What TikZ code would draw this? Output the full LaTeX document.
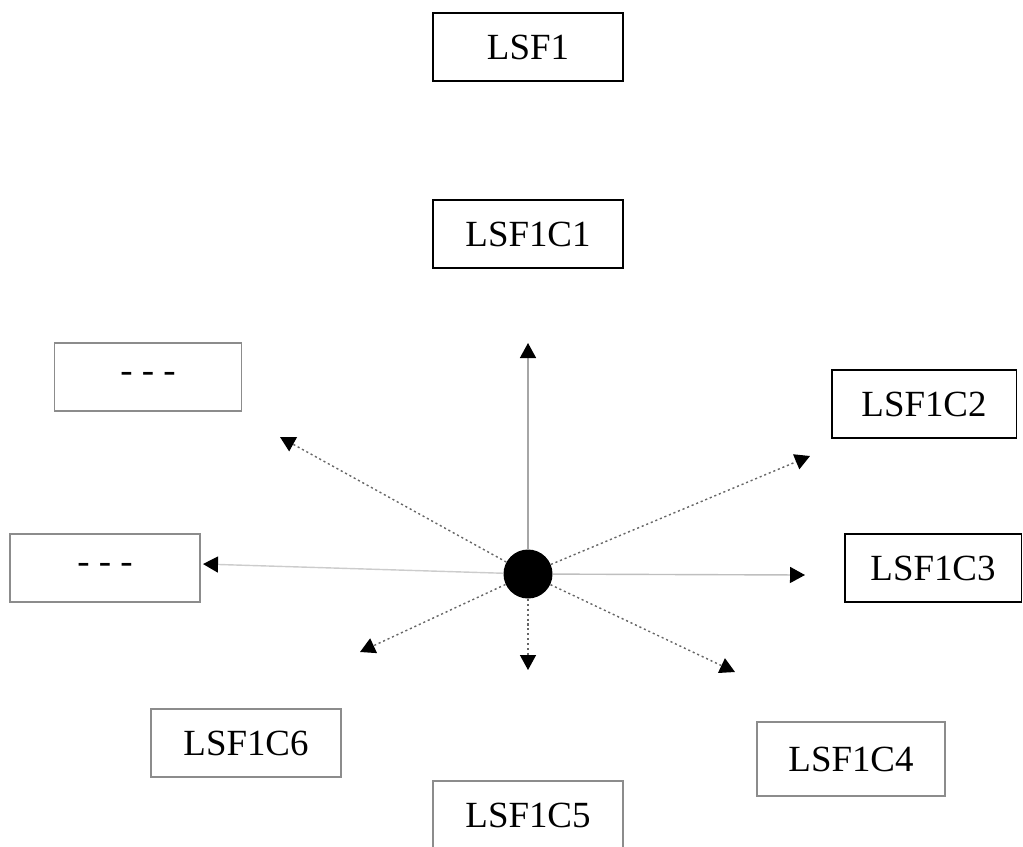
\documentclass[tikz,border=0pt]{standalone}
\usepackage{fontspec}
\setmainfont{Liberation Serif}
\usetikzlibrary{arrows.meta}
\tikzset{
  darkbox/.style={draw=black, line width=1.1pt, fill=white, font=\fontsize{21}{25}\selectfont,
    minimum width=3.8cm, minimum height=1.36cm, inner sep=0pt},
  greybox/.style={darkbox, draw=black!45},
  ray/.style={-{Triangle[length=0.3cm,width=0.32cm,black]}, line width=0.8pt},
  dotray/.style={ray, draw=black!60, dash pattern=on 1.2pt off 1.6pt}
}
\begin{document}
\begin{tikzpicture}[x={(0.02cm,0)}, y={(0,-0.02cm)}]
  \useasboundingbox (0,0) rectangle (1023,846);

  \node[darkbox] (lsf) at (528,47) {LSF1};
  \node[darkbox] (c1) at (528,234) {LSF1C1};
  \node[darkbox, minimum width=3.7cm] (c2) at (924,404) {LSF1C2};
  \node[darkbox, minimum width=3.54cm] (c3) at (933,568) {LSF1C3};
  \node[greybox, minimum width=3.76cm, minimum height=1.48cm] (c4) at (851,759) {LSF1C4};
  \node[greybox] (c5) at (528,815) {LSF1C5};
  \node[greybox] (c6) at (246,743) {LSF1C6};
  \node[greybox, minimum width=3.74cm] (more1) at (148,377) {- - -};
  \node[greybox] (more2) at (105,568) {- - -};

  \node[circle, fill=black, minimum size=0.98cm, inner sep=0pt] (hub) at (528,574) {};

  \coordinate (tup) at (528,343);
  \coordinate (tul) at (280,437);
  \coordinate (tur) at (810,456);
  \coordinate (tr) at (805,575);
  \coordinate (tl) at (203,564);
  \coordinate (tll) at (360,652);
  \coordinate (td) at (528,670);
  \coordinate (tlr) at (735,672);

  \draw[ray, draw=black!35] (hub) -- (tup);
  \draw[ray, draw=black!20] (hub) -- (tl);
  \draw[ray, draw=black!25] (hub) -- (tr);
  \draw[dotray] (hub) -- (tul);
  \draw[dotray] (hub) -- (tur);
  \draw[dotray] (hub) -- (tll);
  \draw[dotray] (hub) -- (td);
  \draw[dotray] (hub) -- (tlr);
\end{tikzpicture}
\end{document}
